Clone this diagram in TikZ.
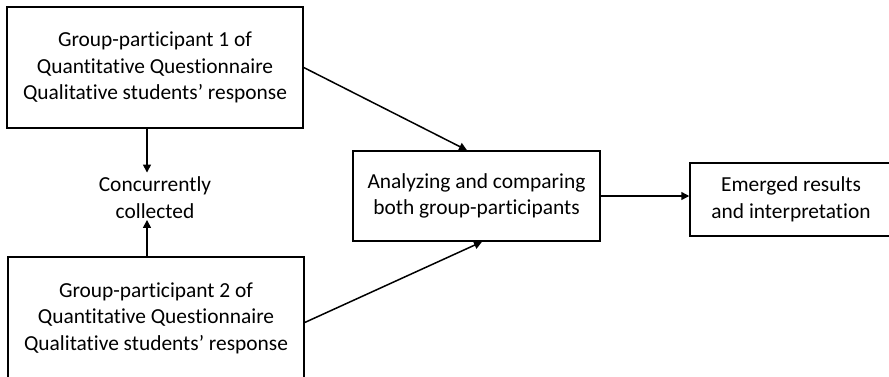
\documentclass[tikz,border=0pt]{standalone}
\usepackage{fontspec}
\setmainfont{Carlito}[Ligatures=NoCommon]
\usetikzlibrary{arrows.meta}
\tikzset{
  boxnode/.style={draw=black, line width=1.5pt, align=center, inner sep=0pt,
    font=\fontsize{21.4}{26.5}\selectfont},
  plain/.style={align=center, inner sep=0pt, font=\fontsize{21.4}{26.5}\selectfont},
  arr/.style={line width=1.5pt, -{Triangle[length=8pt,width=8pt]}}
}
\begin{document}
\begin{tikzpicture}[x=1pt,y=-1pt]
\useasboundingbox (0,0) rectangle (889,376);
\node[boxnode, minimum width=296pt, minimum height=121pt] (b1) at (155,67.5)
  {Group-participant 1 of\\Quantitative Questionnaire\\Qualitative students’ response};
\node[boxnode, minimum width=296pt, minimum height=122pt] (b2) at (156,318)
  {Group-participant 2 of\\Quantitative Questionnaire\\Qualitative students’ response};
\node[plain] (cc) at (155,197.5) {Concurrently\\collected};
\node[boxnode, minimum width=247pt, minimum height=90pt] (mid) at (476.5,196)
  {Analyzing and comparing\\both group-participants};
\node[boxnode, minimum width=202pt, minimum height=73pt] (res) at (791,199.5)
  {Emerged results\\and interpretation};
\draw[arr] ([xshift=-8pt]b1.south) -- ([xshift=-8pt,yshift=4pt]cc.north);
\draw[arr] ([xshift=-9pt]b2.north) -- ([xshift=-8pt,yshift=-1.5pt]cc.south);
\draw[arr] (b1.east) -- ([xshift=-9.5pt]mid.north);
\draw[arr] ([yshift=-4.5pt]b2.east) -- ([xshift=5.5pt]mid.south);
\draw[arr] (mid.east) -- (mid.east -| res.west);
\end{tikzpicture}
\end{document}
